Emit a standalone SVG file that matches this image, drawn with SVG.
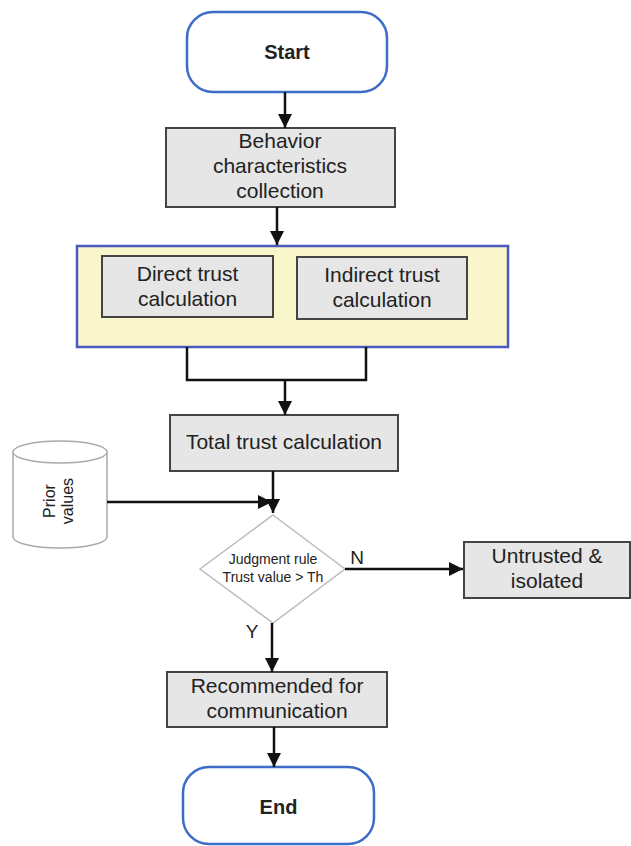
<svg xmlns="http://www.w3.org/2000/svg" width="631" height="846" viewBox="0 0 631 846">
<style>
text{font-family:"Liberation Sans",Arial,sans-serif;fill:#222;text-anchor:middle}
.term{fill:#fff;stroke:#3b6cc6;stroke-width:2.5}
.box{fill:#e6e6e6;stroke:#444;stroke-width:2}
.t{font-size:21px}
.b{font-size:20px;font-weight:bold}
.line{fill:none;stroke:#111;stroke-width:2.5}
.lbl{font-size:19px}
</style>
<defs>
<marker id="ah" markerUnits="userSpaceOnUse" markerWidth="14" markerHeight="14" refX="14" refY="7" orient="auto">
<path d="M0,0 L14,7 L0,14 z" fill="#111"/>
</marker>
</defs>
<rect width="631" height="846" fill="#fff"/>
<g id="start"><rect class="term" x="187" y="12" width="200" height="80" rx="26"/><text class="b" x="287" y="59">Start</text></g>
<g id="behavior"><rect class="box" x="166" y="128" width="229" height="79"/><text class="t" x="280" y="148">Behavior</text><text class="t" x="280" y="173">characteristics</text><text class="t" x="280" y="198">collection</text></g>
<g id="group"><rect x="77" y="246" width="431" height="101" fill="#faf6cc" stroke="#4a58c0" stroke-width="2.5"/></g>
<g id="direct"><rect class="box" x="102" y="256" width="171" height="61"/><text class="t" x="187.5" y="281">Direct trust</text><text class="t" x="187.5" y="306">calculation</text></g>
<g id="indirect"><rect class="box" x="297" y="257" width="170" height="62"/><text class="t" x="382" y="282">Indirect trust</text><text class="t" x="382" y="307">calculation</text></g>
<g id="total"><rect class="box" x="170" y="415" width="228" height="56"/><text class="t" x="284" y="449">Total trust calculation</text></g>
<g id="prior"><path d="M13,452 A47,11 0 0 1 107,452 V537 A47,11 0 0 1 13,537 Z M13,452 A47,11 0 0 0 107,452" fill="#fff" stroke="#aaa" stroke-width="1.5"/><text font-size="16" transform="translate(55,501) rotate(-90)">Prior</text><text font-size="16" transform="translate(73,501) rotate(-90)">values</text></g>
<g id="decision"><polygon points="273,515 345,569 273,623 200,569" fill="#fff" stroke="#bbb" stroke-width="1.5"/><text font-size="14" x="273" y="564">Judgment rule</text><text font-size="14" x="273" y="582">Trust value &gt; Th</text></g>
<g id="untrusted"><rect class="box" x="464" y="542" width="166" height="56"/><text class="t" x="547" y="563">Untrusted &amp;</text><text class="t" x="547" y="588">isolated</text></g>
<g id="recommended"><rect class="box" x="167" y="672" width="220" height="55"/><text class="t" x="277" y="693">Recommended for</text><text class="t" x="277" y="718">communication</text></g>
<g id="end"><rect class="term" x="183" y="767" width="191" height="77" rx="26"/><text class="b" x="278.5" y="814">End</text></g>
<g id="connectors">
<line class="line" x1="285" y1="92" x2="285" y2="128" marker-end="url(#ah)"/>
<line class="line" x1="277" y1="207" x2="277" y2="245" marker-end="url(#ah)"/>
<path class="line" d="M187,347 V380 H366 V347"/>
<line class="line" x1="285" y1="380" x2="285" y2="415" marker-end="url(#ah)"/>
<line class="line" x1="273" y1="471" x2="273" y2="513" marker-end="url(#ah)"/>
<line class="line" x1="107" y1="502" x2="272" y2="502" marker-end="url(#ah)"/>
<line class="line" x1="345" y1="569" x2="463" y2="569" marker-end="url(#ah)"/>
<line class="line" x1="272" y1="623" x2="272" y2="672" marker-end="url(#ah)"/>
<line class="line" x1="274" y1="727" x2="274" y2="767" marker-end="url(#ah)"/>
<text class="lbl" x="357" y="564">N</text>
<text class="lbl" x="252" y="638">Y</text>
</g>
</svg>
